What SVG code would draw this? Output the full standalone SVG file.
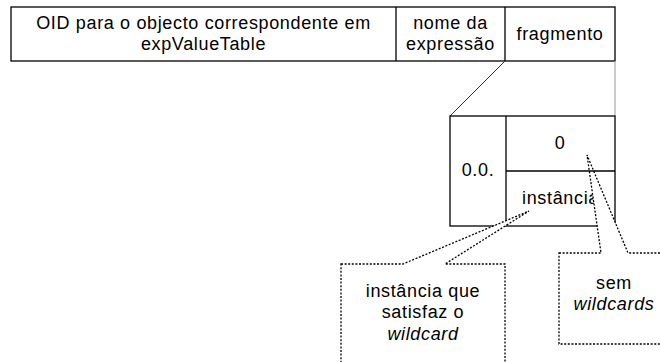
<svg xmlns="http://www.w3.org/2000/svg" width="660" height="362" viewBox="0 0 660 362">
<style>
text{font-family:"Liberation Sans",Arial,sans-serif;font-size:18px;letter-spacing:0.65px;fill:#000;text-anchor:middle}
.it{font-style:italic}
.box{fill:#fff;stroke:#000;stroke-width:1.3}
.ln{stroke:#000;stroke-width:1.3;fill:none}
.call{fill:#fff;stroke:#000;stroke-width:1.3;stroke-dasharray:2 1.6}
</style>
<rect width="660" height="362" fill="#fff"/>
<g id="oid-table">
<rect class="box" x="11" y="7" width="604" height="54"/>
<line class="ln" x1="396" y1="7" x2="396" y2="61"/>
<line class="ln" x1="505" y1="7" x2="505" y2="61"/>
<text x="203.5" y="29">OID para o objecto correspondente em</text>
<text x="203.5" y="50">expValueTable</text>
<text x="450.5" y="29">nome da</text>
<text x="450.5" y="50">expressão</text>
<text x="560" y="40">fragmento</text>
</g>
<g id="connectors">
<line x1="505" y1="61" x2="450" y2="116" stroke="#333" stroke-width="1"/>
<line x1="615" y1="61" x2="615" y2="116" stroke="#aaa" stroke-width="1.2"/>
</g>
<g id="fragment-box">
<rect class="box" x="450" y="116" width="165" height="110"/>
<line class="ln" x1="506" y1="116" x2="506" y2="226"/>
<text x="478" y="176">0.0.</text>
<text x="560" y="149">0</text>
<text x="560.5" y="204">instância</text>
</g>
<g id="callout-wildcard">
<polygon class="call" points="341,264 403,264 529,211 445,264 505,264 505,380 341,380"/>
<text x="423" y="297">instância que</text>
<text x="423" y="318">satisfaz o</text>
<text class="it" x="423" y="340">wildcard</text>
</g>
<g id="callout-sem">
<polygon class="call" points="559,253 601,253 587,155 628,253 680,253 680,344 559,344"/>
<text x="614" y="289">sem</text>
<text class="it" x="614" y="310">wildcards</text>
</g>
<line id="fragment-divider" class="ln" x1="506" y1="171" x2="615" y2="171"/>
</svg>
